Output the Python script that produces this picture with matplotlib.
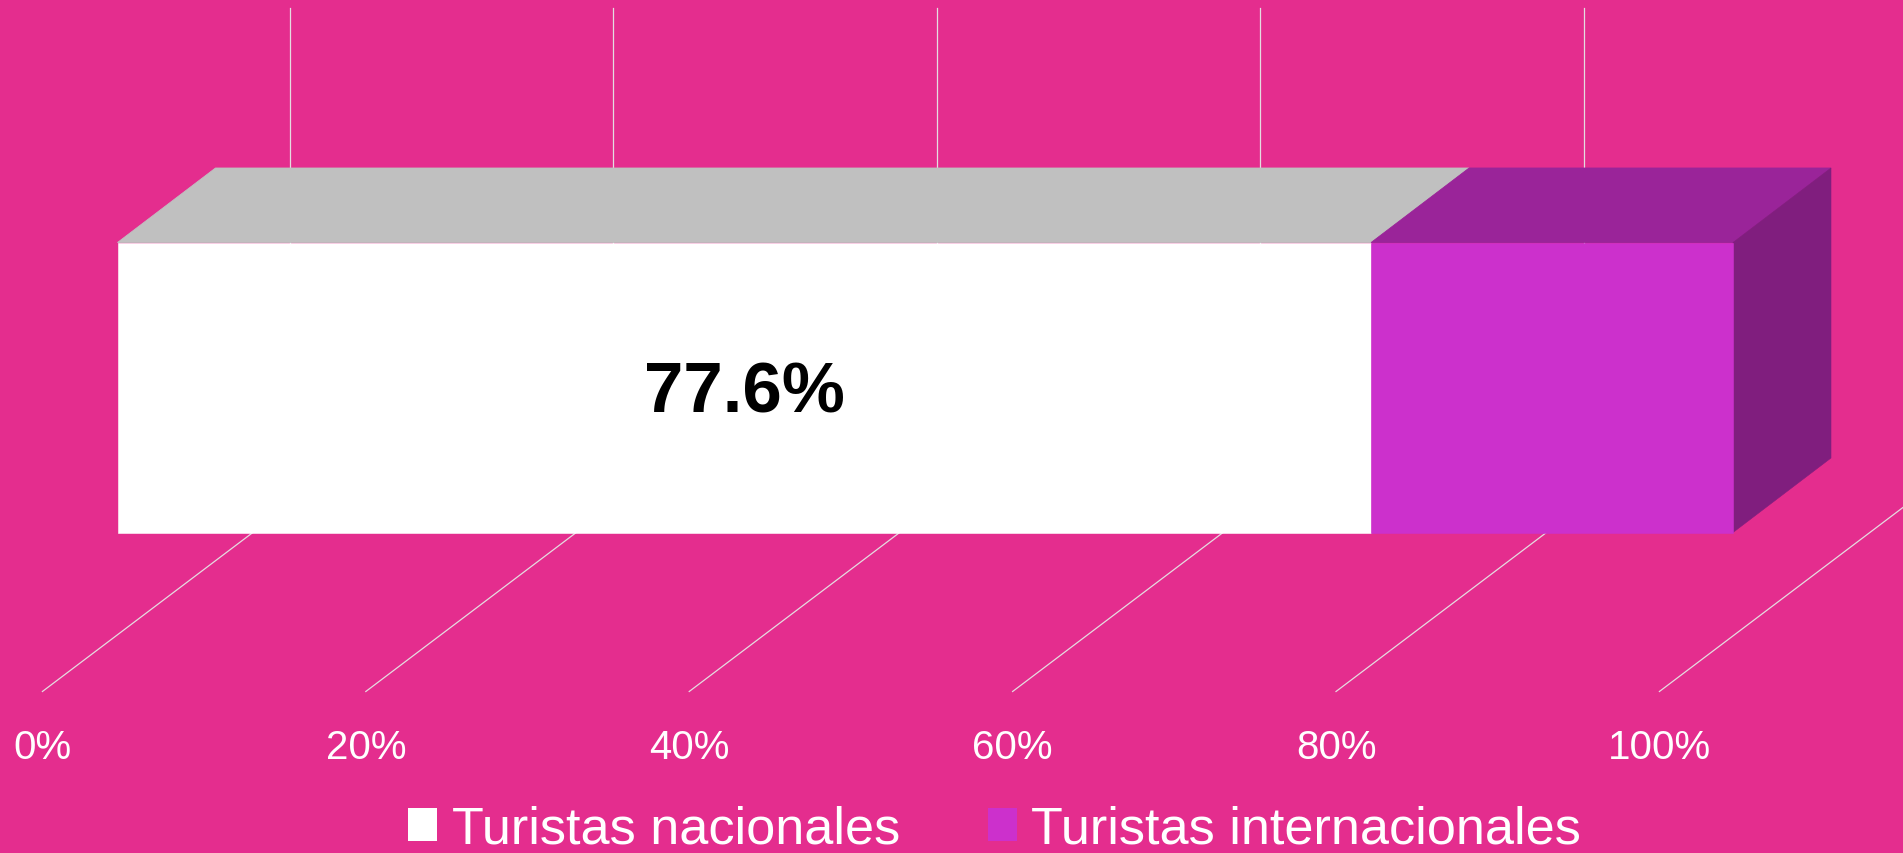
import matplotlib
matplotlib.use("Agg")
import matplotlib.pyplot as plt
from matplotlib.patches import Polygon, Patch

# --- data ---
series_names = ["Turistas nacionales", "Turistas internacionales"]
series_values = [77.6, 22.4]
value_labels = ["77.6%", None]
tick_values = [0, 20, 40, 60, 80, 100]
tick_labels = ["0%", "20%", "40%", "60%", "80%", "100%"]

# --- style ---
BG = "#E42D8E"
FRONT = ["#FFFFFF", "#CC30CC"]
TOP = ["#C0C0C0", "#9A2499"]
SIDE = "#801E7E"
GRID = "#E4DCE0"
W, H = 1903, 854

fig = plt.figure(figsize=(W / 100, H / 100), dpi=100, facecolor=BG)
plt.rcParams["font.family"] = ["Liberation Sans", "DejaVu Sans"]

# axes frame = front floor edge (0%..100%) up to top of back wall
x0, x1, y_floor, y_top = 42.4, 1659.4, 692.5, 9.0
ax = fig.add_axes([x0 / W, 1 - y_floor / H, (x1 - x0) / W, (y_floor - y_top) / H])
ax.set_facecolor("none")
ax.set_xlim(0, 100)
ax.set_ylim(0, y_floor - y_top)
for s in ax.spines.values():
    s.set_visible(False)
ax.set_yticks([])
ax.set_xticks(tick_values, tick_labels, fontsize=29, color="white")
ax.tick_params(axis="x", length=0, pad=26.5)

px = 100 / (x1 - x0)          # pixels -> percent units
wall_dx, wall_dy = 247.5 * px, 187.0
bar_left = 75.1 * px
bar_y0, bar_y1 = 159.0, 449.0
bar_dx, bar_dy = 98.0 * px, 74.5

# gridlines: floor + back wall
for v in tick_values:
    ax.plot([v, v + wall_dx], [0, wall_dy], color=GRID, lw=0.9, zorder=1, clip_on=False)
    ax.plot([v + wall_dx, v + wall_dx], [wall_dy, y_floor - y_top], color=GRID, lw=0.9, zorder=1, clip_on=False)

# 3D stacked bar
scale = (1733.0 - 117.5) / (x1 - x0)
left = 0.0
for i, (name, val) in enumerate(zip(series_names, series_values)):
    a = bar_left + left * scale
    b = bar_left + (left + val) * scale
    ax.add_patch(Polygon([(a, bar_y1), (b, bar_y1), (b + bar_dx, bar_y1 + bar_dy), (a + bar_dx, bar_y1 + bar_dy)],
                         closed=True, fc=TOP[i], ec=TOP[i], lw=0.6, zorder=2.5, clip_on=False))
    bars = ax.barh((bar_y0 + bar_y1) / 2, b - a, left=a, height=bar_y1 - bar_y0,
                   color=FRONT[i], ec=FRONT[i], lw=0.4, zorder=3)
    for r in bars:
        r.set_clip_on(False)
    if value_labels[i]:
        ax.text((a + b) / 2, (bar_y0 + bar_y1) / 2 + 1, value_labels[i], ha="center", va="center_baseline",
                fontsize=51, fontweight="bold", color="black", zorder=5)
    left += val
end = bar_left + left * scale
ax.add_patch(Polygon([(end, bar_y0), (end + bar_dx, bar_y0 + bar_dy), (end + bar_dx, bar_y1 + bar_dy), (end, bar_y1)],
                     closed=True, fc=SIDE, ec=SIDE, lw=0.4, zorder=2.5, clip_on=False))

handles = [Patch(fc=FRONT[i], ec="none", label=series_names[i]) for i in range(2)]
fig.legend(handles=handles, loc="lower left", bbox_to_anchor=(403 / W, -6.0 / H), ncols=2, frameon=False,
           fontsize=37.6, labelcolor="white", handlelength=0.56, handleheight=0.58,
           handletextpad=0.27, columnspacing=1.68, borderpad=0, borderaxespad=0.1)

fig.savefig("out.png", dpi=100, facecolor=BG)
